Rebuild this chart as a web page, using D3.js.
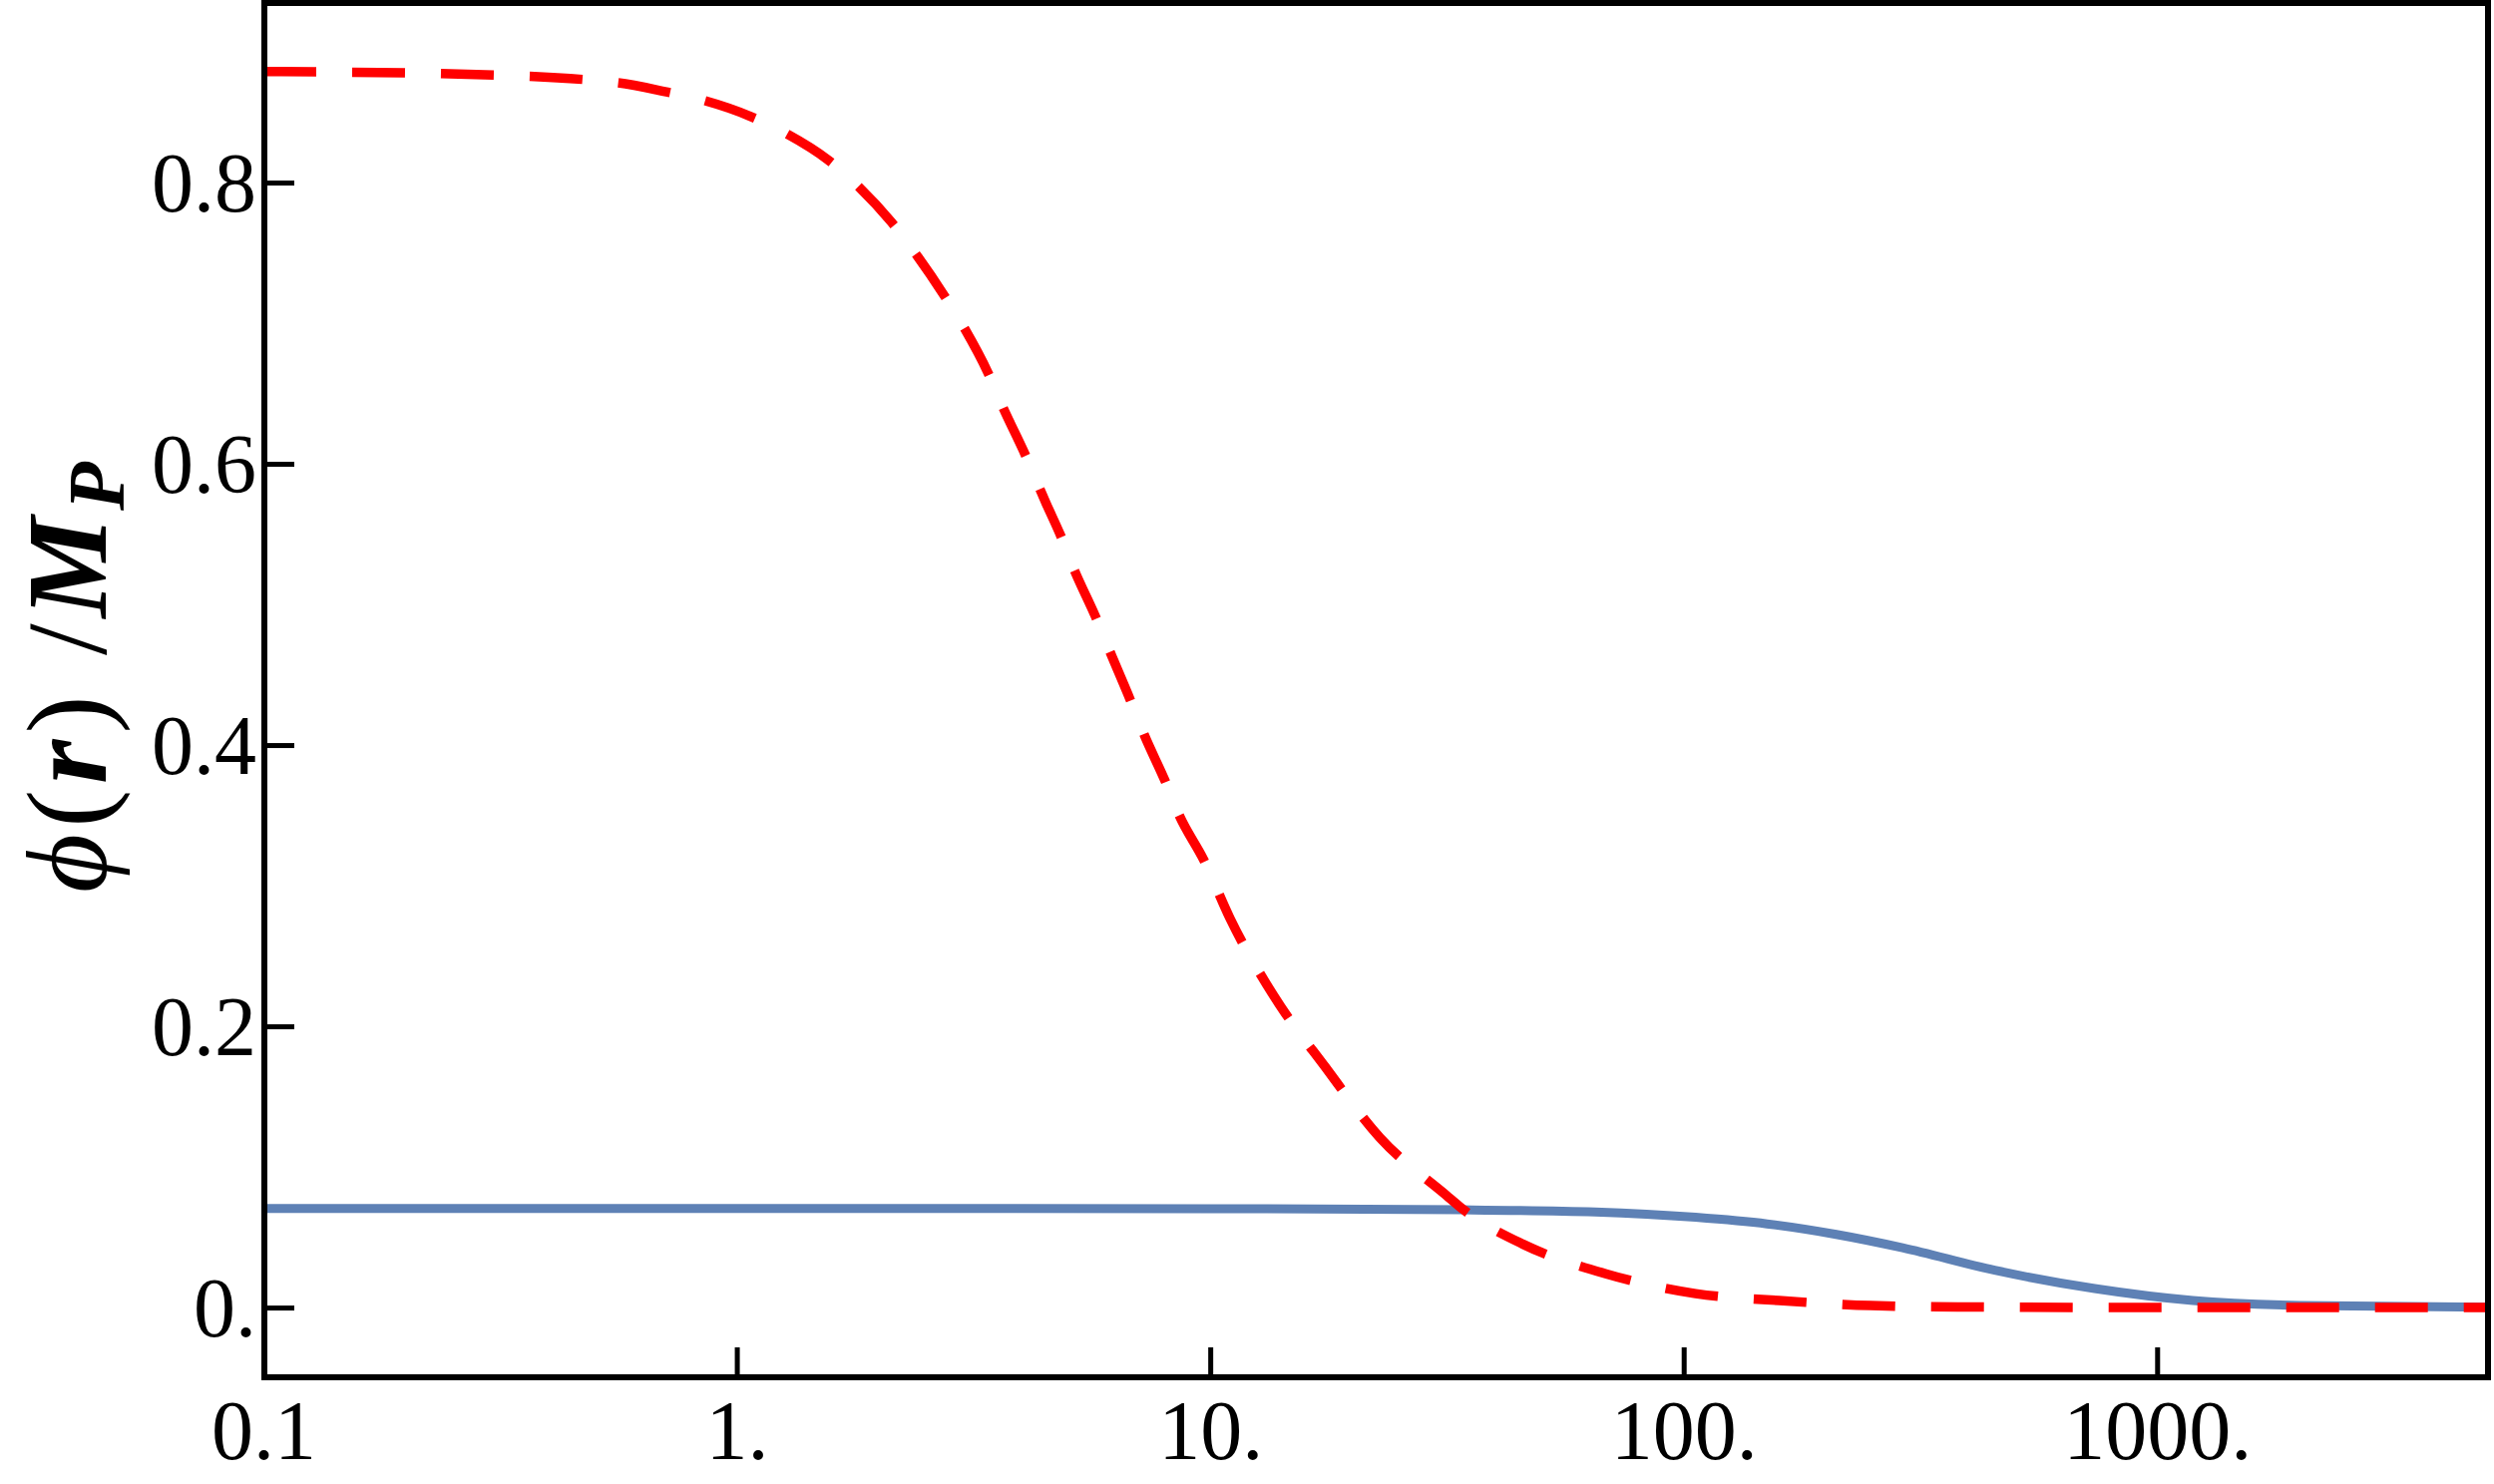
<!DOCTYPE html>
<html>
<head>
<meta charset="utf-8">
<script src="https://cdn.jsdelivr.net/npm/d3@7"></script>
<style>
  html, body { margin: 0; padding: 0; background: #fff; }
  svg { display: block; }
</style>
</head>
<body>
<svg id="chart" width="2500" height="1488"></svg>
<script>
// ---- data ----
const xTicks = [0.1, 1, 10, 100, 1000];
const xTickLabels = ["0.1", "1.", "10.", "100.", "1000."];
const yTicks = [0, 0.2, 0.4, 0.6, 0.8];
const yTickLabels = ["0.", "0.2", "0.4", "0.6", "0.8"];

const redR = [0.1, 0.27, 0.56, 0.71, 0.84, 1.07, 1.27, 1.56, 1.81, 2.12, 2.38, 2.75, 3.03, 3.39, 3.65, 4.06, 4.5, 4.83, 5.17, 5.73, 6.13, 6.78, 7.26, 8.04, 8.6, 9.7, 11.0, 13.6, 17.5, 22.8, 31.5, 34.3, 45.8, 68.5, 106, 159, 248, 400, 1000, 5000];
const redPhi = [0.879, 0.877, 0.871, 0.8645, 0.859, 0.847, 0.835, 0.816, 0.797, 0.772, 0.750, 0.719, 0.696, 0.665, 0.640, 0.607, 0.572, 0.549, 0.524, 0.491, 0.467, 0.432, 0.407, 0.374, 0.350, 0.318, 0.277, 0.222, 0.171, 0.121, 0.080, 0.0695, 0.045, 0.024, 0.0099, 0.005, 0.0014, 0.0004, 0.0, 0.0];

const blueR = [0.1, 1, 10, 34.3, 65, 106, 150, 210, 290, 454, 738, 1190, 2000, 5000];
const bluePhi = [0.0705, 0.0705, 0.0703, 0.0695, 0.068, 0.0642, 0.0595, 0.052, 0.0425, 0.0265, 0.0135, 0.005, 0.0015, 0.0003];

// ---- layout ----
const L = 264, R = 2494, T = 3, B = 1381;
const svg = d3.select("#chart");

const x = d3.scaleLog().domain([0.1, 5000]).range([L, R]);
const y = d3.scaleLinear().domain([-0.0496, 0.9277]).range([B, T]);

svg.append("defs").append("clipPath").attr("id", "plotclip")
  .append("rect").attr("x", L).attr("y", T).attr("width", R - L).attr("height", B - T);

const line = d3.line().x(d => x(d[0])).y(d => y(d[1])).curve(d3.curveMonotoneX);

const plot = svg.append("g").attr("clip-path", "url(#plotclip)");

plot.append("path")
  .datum(blueR.map((r, i) => [r, bluePhi[i]]))
  .attr("d", line)
  .attr("fill", "none")
  .attr("stroke", "#5e81b5")
  .attr("stroke-width", 9);

plot.append("path")
  .datum(redR.map((r, i) => [r, redPhi[i]]))
  .attr("d", line)
  .attr("fill", "none")
  .attr("stroke", "#ff0000")
  .attr("stroke-width", 9.5)
  .attr("stroke-dasharray", "53 36");

// axes (ticks inward)
const fontTick = "'Liberation Serif', 'Times New Roman', serif";

const xAxis = d3.axisBottom(x).tickValues(xTicks)
  .tickFormat((d, i) => xTickLabels[i]).tickSizeInner(-30).tickSizeOuter(0).tickPadding(0);
const gx = svg.append("g").attr("transform", `translate(0,${B})`).call(xAxis);
gx.select(".domain").remove();
gx.selectAll(".tick line").attr("stroke", "#000").attr("stroke-width", 5);
gx.selectAll(".tick text")
  .attr("y", 82).attr("dy", 0)
  .attr("font-family", fontTick).attr("font-size", 84).attr("fill", "#000");

const yAxis = d3.axisLeft(y).tickValues(yTicks)
  .tickFormat((d, i) => yTickLabels[i]).tickSizeInner(-30).tickSizeOuter(0).tickPadding(0);
const gy = svg.append("g").attr("transform", `translate(${L + 1},0)`).call(yAxis);
gy.select(".domain").remove();
gy.selectAll(".tick line").attr("stroke", "#000").attr("stroke-width", 5);
gy.selectAll(".tick text")
  .attr("x", -8).attr("dy", 28)
  .attr("font-family", fontTick).attr("font-size", 84).attr("fill", "#000");

// frame
svg.append("rect")
  .attr("x", L + 1).attr("y", T).attr("width", R - L - 1).attr("height", B - T)
  .attr("fill", "none").attr("stroke", "#000").attr("stroke-width", 6);

// y-axis title
const title = svg.append("text")
  .attr("transform", "translate(106,676) rotate(-90)")
  .attr("text-anchor", "middle")
  .attr("font-family", "'Liberation Serif', 'DejaVu Serif', serif")
  .attr("font-size", 114)
  .attr("letter-spacing", 6)
  .attr("fill", "#000");
title.append("tspan").attr("font-style", "italic").text("\u03D5");
title.append("tspan").text("(");
title.append("tspan").attr("font-style", "italic").attr("font-weight", "bold").text("r");
title.append("tspan").text(")");
title.append("tspan").text(" /");
title.append("tspan").attr("font-style", "italic").attr("font-weight", "bold").text("M");
title.append("tspan").attr("font-style", "italic").attr("font-weight", "bold")
  .attr("font-size", 80).attr("dy", 18).text("P");
</script>
</body>
</html>
